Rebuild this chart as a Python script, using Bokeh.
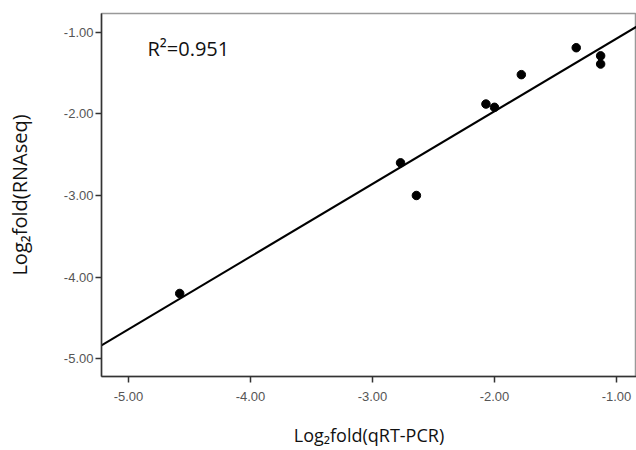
import numpy as np
from bokeh.plotting import figure
from bokeh.models import FixedTicker, NumeralTickFormatter, Range1d
from bokeh.core.properties import value
from bokeh.embed import file_html
from bokeh.resources import INLINE

# Data
qrt_pcr = [-1.33, -1.13, -1.13, -1.78, -2.07, -2.00, -2.77, -2.64, -4.58]
rnaseq = [-1.19, -1.29, -1.39, -1.52, -1.88, -1.92, -2.60, -3.00, -4.20]
tick_values = [-5.0, -4.0, -3.0, -2.0, -1.0]
r2_label = "R\u00b2=0.951"

x_start, x_end = -5.221, -0.836
y_start, y_end = -5.217, -0.771

p = figure(width=636, height=450, output_backend="svg", toolbar_location=None,
           x_range=Range1d(x_start, x_end), y_range=Range1d(y_start, y_end),
           min_border_left=101, min_border_top=13, min_border_right=0, min_border_bottom=74)

p.background_fill_color = "white"
p.border_fill_color = "white"
p.outline_line_color = "#999999"
p.outline_line_width = 1.5
p.xgrid.visible = False
p.ygrid.visible = False

# Regression line computed from the data
slope, intercept = np.polyfit(qrt_pcr, rnaseq, 1)
lx = [x_start, x_end]
ly = [slope * v + intercept for v in lx]
p.line(lx, ly, line_color="black", line_width=2)

p.scatter(qrt_pcr, rnaseq, size=8.5, fill_color="black", line_color="black")

p.text(x=[-4.844], y=[-1.2], text=[r2_label], text_font=value("Open Sans"),
       text_font_size="20px", text_color="#111111", text_baseline="middle", text_align="left")

for ax in (p.xaxis[0], p.yaxis[0]):
    ax.ticker = FixedTicker(ticks=tick_values)
    ax.formatter = NumeralTickFormatter(format="0.00")
    ax.minor_tick_line_color = None
    ax.major_tick_in = 0
    ax.major_tick_out = 6
    ax.major_tick_line_color = "#333333"
    ax.major_tick_line_width = 1.5
    ax.axis_line_color = "#333333"
    ax.axis_line_width = 1.5
    ax.major_label_text_font = "Liberation Sans"
    ax.major_label_text_font_size = "13px"
    ax.major_label_text_color = "#555555"
    ax.axis_label_text_font = "Open Sans"
    ax.axis_label_text_font_style = "normal"
    ax.axis_label_text_color = "#111111"

p.xaxis.axis_label = "Log\u2082fold(qRT-PCR)"
p.yaxis.axis_label = "Log\u2082fold(RNAseq)"
p.xaxis.axis_label_text_font_size = "18px"
p.yaxis.axis_label_text_font_size = "20px"
p.xaxis.major_label_standoff = 9
p.yaxis.major_label_standoff = 2
p.xaxis.axis_label_standoff = 19
p.yaxis.axis_label_standoff = 28

open("out.html", "w").write(file_html(p, INLINE))
